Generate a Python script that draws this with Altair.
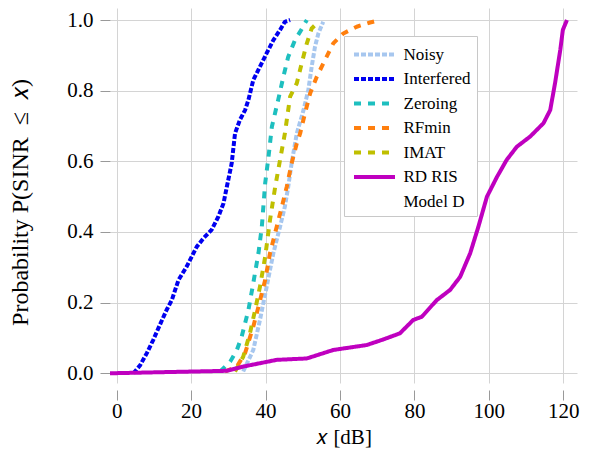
import altair as alt
import pandas as pd

# ---- data ----
series_names = ["Noisy", "Interfered", "Zeroing", "RFmin", "IMAT", "RD RIS", "Model D"]
series_colors = ["#a7c7ef", "#0000f0", "#1ebfbf", "#ff7f0e", "#bfbf00", "#bf00bf", "transparent"]
series_dash = [[5, 2], [5, 2], [7, 7], [7, 7], [7, 7], [1, 0], [1, 0]]

noisy_x = [34.0, 36.7, 38.5, 40.3, 42.1, 43.9, 45.2, 46.1, 47.0, 48.4, 50.2, 51.5, 52.4, 53.3, 54.2, 55.5]
noisy_y = [0.005, 0.066, 0.151, 0.245, 0.340, 0.415, 0.472, 0.528, 0.594, 0.679, 0.745, 0.802, 0.868, 0.925, 0.962, 0.995]

interf_x = [4.5, 6.3, 8.1, 9.8, 11.6, 13.4, 14.8, 16.6, 18.8, 21.5, 23.3, 25.5, 27.3, 28.7, 29.6, 30.9,
            31.3, 31.8, 33.1, 34.5, 35.4, 36.7, 38.5, 40.3, 42.1, 43.9, 45.2, 46.6]
interf_y = [0.0, 0.023, 0.057, 0.094, 0.137, 0.179, 0.207, 0.264, 0.302, 0.358, 0.382, 0.406, 0.443, 0.481, 0.528, 0.594,
            0.632, 0.679, 0.717, 0.745, 0.774, 0.830, 0.868, 0.906, 0.943, 0.972, 0.995, 1.0]

zero_x = [27.8, 30.5, 32.3, 33.6, 35.4, 36.7, 38.1, 39.0, 39.9, 40.8, 41.7, 43.4, 44.8, 46.1, 47.9, 49.3, 50.6, 51.1]
zero_y = [0.005, 0.033, 0.066, 0.104, 0.179, 0.255, 0.340, 0.415, 0.538, 0.613, 0.698, 0.774, 0.840, 0.896, 0.943, 0.967, 0.991, 1.0]

rfmin_x = [29.1, 32.3, 34.5, 36.7, 38.1, 39.9, 41.2, 43.0, 44.4, 45.7, 47.0, 48.4, 49.3, 50.6, 52.0, 53.8,
           56.0, 58.2, 60.9, 64.5, 68.1, 70.8]
rfmin_y = [0.005, 0.019, 0.057, 0.132, 0.189, 0.264, 0.340, 0.415, 0.472, 0.528, 0.594, 0.651, 0.679, 0.736, 0.793, 0.840,
           0.887, 0.934, 0.962, 0.981, 0.993, 1.0]

imat_x = [31.8, 34.0, 35.8, 37.2, 38.5, 39.9, 41.2, 42.6, 43.9, 45.2, 46.6, 48.4, 49.7, 51.1, 52.4, 54.2]
imat_y = [0.005, 0.047, 0.113, 0.179, 0.245, 0.330, 0.434, 0.528, 0.604, 0.679, 0.783, 0.821, 0.877, 0.934, 0.976, 0.995]

ris_x = [-1.8, 29.6, 34.0, 43.0, 51.1, 58.2, 67.2, 71.7, 76.1, 79.7, 82.0, 86.0, 89.6, 92.3, 95.0, 97.2,
         99.5, 102.2, 104.8, 107.5, 111.1, 114.7, 116.5, 117.8, 119.2, 119.9, 121.0]
ris_y = [0.0, 0.007, 0.019, 0.038, 0.042, 0.066, 0.080, 0.096, 0.113, 0.151, 0.160, 0.207, 0.236, 0.273, 0.340, 0.415,
         0.500, 0.556, 0.604, 0.641, 0.670, 0.708, 0.745, 0.821, 0.915, 0.972, 1.0]

x_ticks = [0, 20, 40, 60, 80, 100, 120]
y_ticks = [0.0, 0.2, 0.4, 0.6, 0.8, 1.0]

rows = []
for name, xs, ys in [("Noisy", noisy_x, noisy_y), ("Interfered", interf_x, interf_y),
                     ("Zeroing", zero_x, zero_y), ("RFmin", rfmin_x, rfmin_y),
                     ("IMAT", imat_x, imat_y), ("RD RIS", ris_x, ris_y)]:
    for i, (xv, yv) in enumerate(zip(xs, ys)):
        rows.append({"x": xv, "y": yv, "series": name, "i": i})
df = pd.DataFrame(rows)

FONT = "Liberation Serif, Times New Roman, serif"

legend = alt.Legend(
    title=None, orient="none", legendX=234, legendY=28,
    symbolType="M-2,0H2", symbolSize=420, symbolStrokeWidth=4, symbolOffset=12,
    labelFont=FONT, labelFontSize=17, labelColor="black", labelOffset=16.5,
    padding=6, rowPadding=3.5, strokeColor="#c8c8c8", fillColor="white",
)

chart = alt.Chart(df).mark_line(strokeWidth=4, strokeCap="butt", strokeJoin="round").encode(
    x=alt.X("x:Q",
            scale=alt.Scale(domain=[-1.8, 123.7], nice=False, zero=False),
            axis=alt.Axis(values=x_ticks, title="𝑥 [dB]", offset=7, tickSize=10, domain=False,
                          labelFont=FONT, titleFont=FONT,
                          labelFontSize=21, titleFontSize=21, labelPadding=0,
                          titleY=53, titleBaseline="alphabetic")),
    y=alt.Y("y:Q",
            scale=alt.Scale(domain=[-0.0275, 1.034], nice=False, zero=False),
            axis=alt.Axis(values=y_ticks, format=".1f", title="Probability P(SINR\u2002≤\u2002𝑥)", tickSize=10,
                          labelFont=FONT, titleFont=FONT,
                          domain=False, labelFontSize=21, titleFontSize=24, labelPadding=7,
                          titleX=-83, titleY=194, titleBaseline="alphabetic")),
    color=alt.Color("series:N", scale=alt.Scale(domain=series_names, range=series_colors), legend=legend),
    strokeDash=alt.StrokeDash("series:N", scale=alt.Scale(domain=series_names, range=series_dash), legend=legend),
    order=alt.Order("i:Q"),
).properties(
    width=467, height=375,
    padding={"left": 102, "top": 0, "right": 5, "bottom": 67},
    autosize=alt.AutoSizeParams(type="none"),
).configure_view(
    stroke=None
).configure_axis(
    labelColor="black", titleColor="black",
    gridColor="#d4d4d4", gridWidth=1, tickColor="#999999", tickWidth=1,
    titleFontWeight="normal",
)

chart.save("out.html", embed_options={"renderer": "svg", "actions": False})
